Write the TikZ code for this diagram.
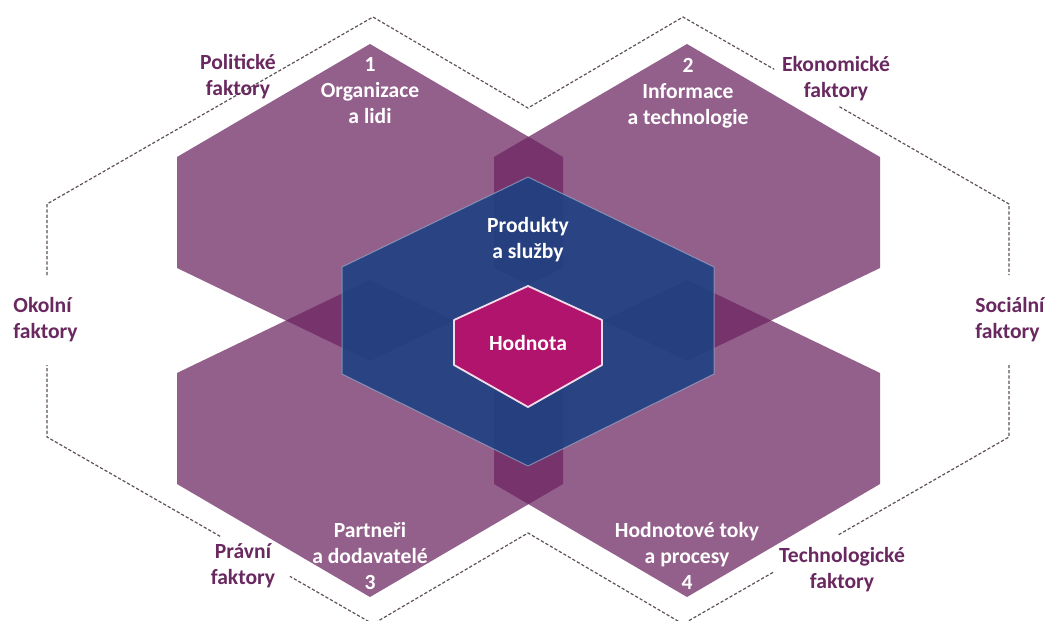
\documentclass[tikz,border=0pt]{standalone}
\usepackage{fontspec}
\setmainfont{Carlito}
\usetikzlibrary{calc}
\definecolor{fialova}{RGB}{106,34,95}
\definecolor{modra}{RGB}{30,65,130}
\definecolor{purpurova}{RGB}{176,20,108}
\definecolor{popis}{RGB}{105,40,95}
\definecolor{carka}{RGB}{95,80,92}
\tikzset{
  hexfill/.style={fill=fialova, fill opacity=0.72},
  modryhex/.style={fill=modra, fill opacity=0.9, draw=modra!45!white, draw opacity=0.7, line width=0.5pt},
  hodnotahex/.style={fill=purpurova, draw=white!85!purpurova, line width=0.9pt},
  obrys/.style={draw=carka, line width=0.6pt, dash pattern=on 1.6pt off 1pt},
  bily/.style={text=white, font=\bfseries\fontsize{10.8}{13}\selectfont, align=center, inner sep=0pt},
  vnejsi/.style={text=popis, font=\bfseries\fontsize{10.8}{13}\selectfont, align=center, inner sep=0pt}
}
\begin{document}
\begin{tikzpicture}[x=0.5pt, y=-0.5pt, line join=round, line cap=butt]
				%Rámeček.
				\useasboundingbox (0,0) rectangle (1045,621);
				\clip (0,0) rectangle (1045,621);
				%Souřadnice vnějšího obrysu.
				\coordinate (A) at (373,17);
				\coordinate (V) at (528,108);
				\coordinate (B) at (683,17);
				\coordinate (R1) at (1009,204);
				\coordinate (R2) at (1009,437);
				\coordinate (C) at (683,624);
				\coordinate (W) at (528,533);
				\coordinate (D) at (373,624);
				\coordinate (L2) at (47,437);
				\coordinate (L1) at (47,204);
				%Vnější obrys.
				\draw[obrys] ($(L1)!0.53!(A)$) -- (A) -- (V) -- (B) -- ($(B)!0.28!(R1)$);
				\draw[obrys] ($(B)!0.48!(R1)$) -- (R1) -- (1009,275);
				\draw[obrys] (1009,365) -- (R2) -- ($(C)!0.475!(R2)$);
				\draw[obrys] ($(C)!0.276!(R2)$) -- (C) -- (W) -- (D) -- ($(L2)!0.745!(D)$);
				\draw[obrys] ($(L2)!0.531!(D)$) -- (L2) -- (47,365);
				\draw[obrys] (47,275) -- (L1) -- ($(L1)!0.525!(A)$);
				%Čtyři fialové šestiúhelníky.
				\foreach \cx/\sy in {370/1,687/1,370/-1,687/-1}
					\fill[hexfill] (\cx,{320.5-\sy*276.5}) -- ({\cx+193},{320.5-\sy*163.5}) -- ({\cx+193},{320.5-\sy*52.5}) -- (\cx,{320.5+\sy*40.5}) -- ({\cx-193},{320.5-\sy*52.5}) -- ({\cx-193},{320.5-\sy*163.5}) -- cycle;
				%Modrý šestiúhelník.
				\filldraw[modryhex] (528,177) -- (714,267) -- (714,374) -- (528,466) -- (342,374) -- (342,267) -- cycle;
				%Hodnota.
				\filldraw[hodnotahex] (528,286) -- (602,320) -- (602,365) -- (528,407) -- (454,365) -- (454,320) -- cycle;
				%Popisky uvnitř.
				\node[bily] (org) at (370,91) {1\\Organizace\\a lidi};
				\node[bily] (inf) at (688,93) {2\\Informace\\a technologie};
				\node[bily] (prod) at (528,240) {Produkty\\a služby};
				\node[bily] (hodnota) at (528,343) {Hodnota};
				\node[bily] (par) at (370,556) {Partneři\\a dodavatelé\\3};
				\node[bily] (hod) at (687,556) {Hodnotové toky\\a procesy\\4};
				%Okolní faktory.
				\node[vnejsi] (polit) at (238,77) {Politické\\faktory};
				\node[vnejsi] (ekon) at (836,79) {Ekonomické\\faktory};
				\node[vnejsi, align=left, anchor=west] (okol) at (13,320) {Okolní\\faktory};
				\node[vnejsi, align=left, anchor=west] (soc) at (975,320) {Sociální\\faktory};
				\node[vnejsi] (pravni) at (243,566) {Právní\\faktory};
				\node[vnejsi] (tech) at (842,570) {Technologické\\faktory};
			\end{tikzpicture}
\end{document}
